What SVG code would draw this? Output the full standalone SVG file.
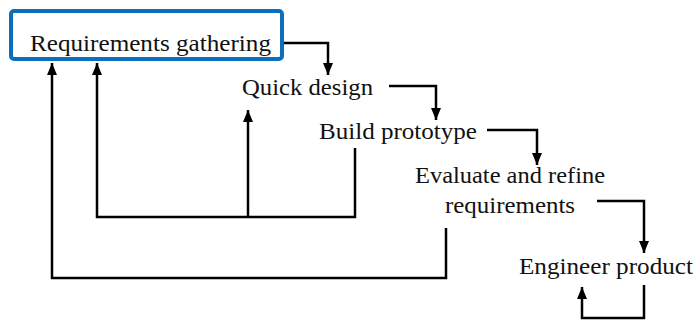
<svg xmlns="http://www.w3.org/2000/svg" width="697" height="321" viewBox="0 0 697 321">
  <style>
    .lbl { font-family: "Liberation Serif", "DejaVu Serif", serif; font-size: 23px; fill: #111; }
    .edge { fill: none; stroke: #000; stroke-width: 2.5; stroke-linejoin: miter; marker-end: url(#arrow); }
  </style>
  <defs>
    <marker id="arrow" markerUnits="userSpaceOnUse" markerWidth="12" markerHeight="12" viewBox="0 0 12 12" refX="12" refY="6" orient="auto">
      <path d="M0,1 L12,6 L0,11 Z" fill="#000"/>
    </marker>
  </defs>
  <rect width="697" height="321" fill="#fff"/>

  <g id="connectors">
    <path class="edge" d="M283,43 H328 V75"/>
    <path class="edge" d="M389,86 H436 V120"/>
    <path class="edge" d="M487,130 H537 V165"/>
    <path class="edge" d="M597,201 H644 V253"/>
    <path class="edge" d="M644,285 V318 H582 V287"/>
    <path class="edge" d="M355,148 V217 H97 V63"/>
    <path class="edge" d="M248,217 V110"/>
    <path class="edge" d="M446,228 V278 H52 V63"/>
  </g>

  <g id="requirements-gathering">
    <rect x="11" y="11" width="271" height="48" rx="3" fill="none" stroke="#0B6FBD" stroke-width="4"/>
    <text class="lbl" x="30" y="51" textLength="241" lengthAdjust="spacingAndGlyphs">Requirements gathering</text>
  </g>
  <g id="quick-design">
    <text class="lbl" x="242" y="95" textLength="131" lengthAdjust="spacingAndGlyphs">Quick design</text>
  </g>
  <g id="build-prototype">
    <text class="lbl" x="319" y="139" textLength="158" lengthAdjust="spacingAndGlyphs">Build prototype</text>
  </g>
  <g id="evaluate-refine">
    <text class="lbl" x="415" y="183" textLength="190" lengthAdjust="spacingAndGlyphs">Evaluate and refine</text>
    <text class="lbl" x="445" y="213" textLength="130" lengthAdjust="spacingAndGlyphs">requirements</text>
  </g>
  <g id="engineer-product">
    <text class="lbl" x="519" y="274" textLength="174" lengthAdjust="spacingAndGlyphs">Engineer product</text>
  </g>
</svg>
